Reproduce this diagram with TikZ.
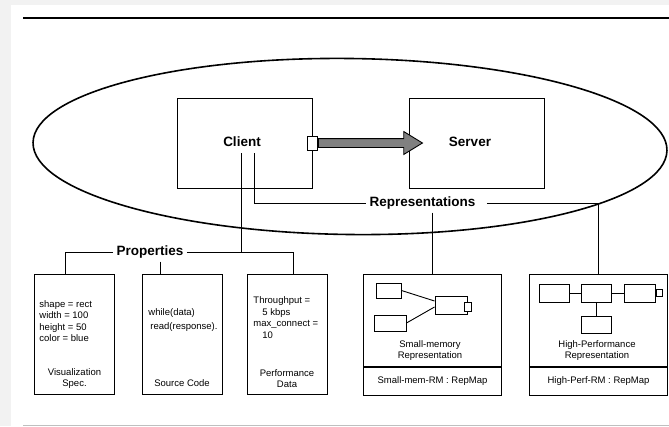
\documentclass[tikz,border=0pt]{standalone}
\usepackage{fontspec}
\setmainfont{Liberation Sans}
\usetikzlibrary{shapes.arrows}

\begin{document}
\begin{tikzpicture}[
  x=1pt, y=-1pt,
  line width=0.9pt,
  title/.style={font=\fontsize{13.5}{16}\selectfont\bfseries, inner sep=3pt},
  smalltext/.style={font=\fontsize{9.5}{11.5}\selectfont, align=center, inner sep=0pt},
  spec/.style={smalltext, align=left},
  box/.style={draw, fill=white, inner sep=0pt, line width=1pt},
  comp/.style={box, minimum width=135pt, minimum height=90pt},
  propbox/.style={box, minimum width=80pt, minimum height=120pt},
  repbox/.style={box, minimum width=138pt, minimum height=92pt},
  mapbox/.style={box, smalltext, line width=1.6pt, minimum width=138pt, minimum height=28pt},
  part/.style={box, minimum width=30pt, minimum height=18pt},
  port/.style={box, minimum width=6pt, minimum height=7pt},
  link/.style={single arrow, draw, fill=gray, line width=0.9pt, inner xsep=0pt, inner ysep=4pt,
    minimum height=104pt, minimum width=22pt, single arrow head extend=7pt,
    single arrow tip angle=63, single arrow head indent=0pt}
]
\useasboundingbox (0,0) rectangle (669,426);
\fill[gray!10] (0,0) rectangle (669,426);
\fill[white] (11,5) rectangle (669,426);
\draw[line width=1.5pt] (23,18) -- (669,18);
\draw[gray!50, line width=1pt] (23,425) -- (669,425);

\draw[line width=1.6pt, rotate around={-0.7:(350,146.5)}] (350,146.5) ellipse [x radius=317, y radius=88];

\node[comp] (client) at (244.5,143) {};
\node[title, inner ysep=6pt] (clientlbl) at (242,142) {Client};
\node[comp] (server) at (476.5,143.5) {};
\node[title] (serverlbl) at (470,142) {Server};

\node[box, minimum width=10pt, minimum height=14pt] (cport) at (client.east) {};
\node[link, anchor=tail] (call) at (cport.east) {};

\node[title] (propslbl) at (150,252) {Properties};
\node[title] (replbl) at (422.5,203) {Representations};

\node[propbox] (vis) at (74.5,334) {};
\node[propbox] (src) at (182,334) {};
\node[propbox] (perf) at (287,334) {};

\node[spec, anchor=west] (visdata) at (39,321) {shape = rect\\width = 100\\height = 50\\color = blue};
\node[smalltext] (vislbl) at (74.5,378.5) {Visualization\\Spec.};
\node[spec, anchor=west] (srcdata) at (148,320) {while(data)\\[2.5pt]\hspace*{2pt}read(response).};
\node[smalltext] (srclbl) at (182,383) {Source Code};
\node[spec, anchor=west] (perfdata) at (253,317.5) {Throughput =\\\hspace*{9pt}5 kbps\\max\_connect =\\\hspace*{9pt}10};
\node[smalltext] (perflbl) at (287,378.5) {Performance\\Data};

\node[repbox] (smallmem) at (432.5,320) {};
\node[mapbox, anchor=north] (smallmap) at (smallmem.south) {Small-mem-RM : RepMap};
\node[repbox] (hiperf) at (598.5,320) {};
\node[mapbox, anchor=north] (himap) at (hiperf.south) {High-Perf-RM : RepMap};

\node[smalltext] (smalllbl) at (430,350.5) {Small-memory\\Representation};
\node[smalltext] (hilbl) at (597,350.5) {High-Performance\\Representation};

\node[part, minimum width=25pt, minimum height=15pt] (sm1) at (388.5,290.5) {};
\node[part, minimum width=32pt, minimum height=16pt] (sm2) at (390,323) {};
\node[part, minimum width=32pt, minimum height=18pt] (sm3) at (451,305) {};
\node[port, minimum width=7pt, minimum height=9pt, anchor=west] (sm3port) at ([xshift=-4pt,yshift=-2pt]sm3.east) {};
\draw (sm1.east) -- ([yshift=4pt]sm3.west);
\draw (sm2.east) -- ([yshift=-2pt]sm3.west);

\node[part] (hpa) at (554,293) {};
\node[part] (hpb) at (596,293) {};
\node[part, minimum width=31pt] (hpc) at (639.5,293) {};
\node[part, minimum height=17pt] (hpd) at (596,324.5) {};
\node[port, anchor=west] (hpcport) at (hpc.east) {};
\draw (hpa) -- (hpb);
\draw (hpb) -- (hpc);
\draw (hpb) -- (hpd);

\draw ([xshift=-1pt]clientlbl.south) -- ([xshift=-1pt]clientlbl.south |- propslbl.east);
\draw (propslbl.west) -| ([xshift=-9.5pt]vis.north);
\draw (propslbl.east) -| ([xshift=6pt]perf.north);
\draw ([xshift=10pt]propslbl.south) -- ([xshift=10pt]propslbl.south |- src.north);

\draw ([xshift=12pt]clientlbl.south) |- (replbl.west);
\draw ([xshift=8pt]replbl.east) -| (hiperf.north);
\draw (replbl.south -| smallmem.north) -- (smallmem.north);
\end{tikzpicture}
\end{document}
